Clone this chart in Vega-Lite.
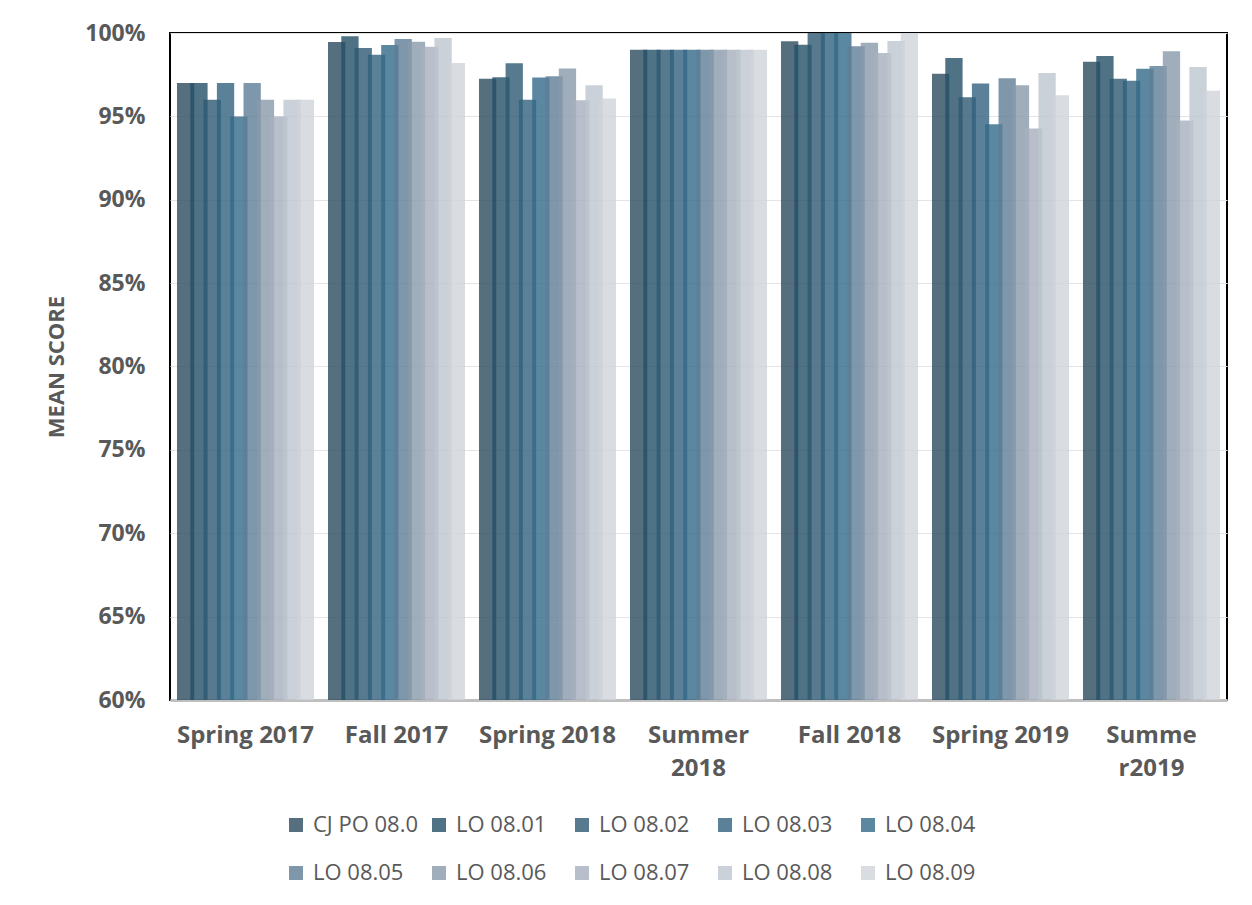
{
  "$schema": "https://vega.github.io/schema/vega-lite/v6.json",
  "width": 1057,
  "height": 667,
  "autosize": {"type": "none"},
  "padding": {"left": 170, "top": 33, "right": 25, "bottom": 205},
  "background": "white",
  "config": {
    "view": {"stroke": "#000000", "strokeWidth": 2},
    "font": "Open Sans"
  },
  "data": {
    "values": [
      {"term": "Spring 2017", "series": "CJ PO 08.0", "score": 0.97},
      {"term": "Spring 2017", "series": "LO 08.01", "score": 0.97},
      {"term": "Spring 2017", "series": "LO 08.02", "score": 0.96},
      {"term": "Spring 2017", "series": "LO 08.03", "score": 0.97},
      {"term": "Spring 2017", "series": "LO 08.04", "score": 0.95},
      {"term": "Spring 2017", "series": "LO 08.05", "score": 0.97},
      {"term": "Spring 2017", "series": "LO 08.06", "score": 0.96},
      {"term": "Spring 2017", "series": "LO 08.07", "score": 0.95},
      {"term": "Spring 2017", "series": "LO 08.08", "score": 0.96},
      {"term": "Spring 2017", "series": "LO 08.09", "score": 0.96},
      {"term": "Fall 2017", "series": "CJ PO 08.0", "score": 0.9946},
      {"term": "Fall 2017", "series": "LO 08.01", "score": 0.998},
      {"term": "Fall 2017", "series": "LO 08.02", "score": 0.991},
      {"term": "Fall 2017", "series": "LO 08.03", "score": 0.987},
      {"term": "Fall 2017", "series": "LO 08.04", "score": 0.9928},
      {"term": "Fall 2017", "series": "LO 08.05", "score": 0.9964},
      {"term": "Fall 2017", "series": "LO 08.06", "score": 0.9948},
      {"term": "Fall 2017", "series": "LO 08.07", "score": 0.9918},
      {"term": "Fall 2017", "series": "LO 08.08", "score": 0.997},
      {"term": "Fall 2017", "series": "LO 08.09", "score": 0.982},
      {"term": "Spring 2018", "series": "CJ PO 08.0", "score": 0.9725},
      {"term": "Spring 2018", "series": "LO 08.01", "score": 0.9735},
      {"term": "Spring 2018", "series": "LO 08.02", "score": 0.9818},
      {"term": "Spring 2018", "series": "LO 08.03", "score": 0.96},
      {"term": "Spring 2018", "series": "LO 08.04", "score": 0.9733},
      {"term": "Spring 2018", "series": "LO 08.05", "score": 0.9741},
      {"term": "Spring 2018", "series": "LO 08.06", "score": 0.9787},
      {"term": "Spring 2018", "series": "LO 08.07", "score": 0.9597},
      {"term": "Spring 2018", "series": "LO 08.08", "score": 0.9687},
      {"term": "Spring 2018", "series": "LO 08.09", "score": 0.9607},
      {"term": "Summer 2018", "series": "CJ PO 08.0", "score": 0.99},
      {"term": "Summer 2018", "series": "LO 08.01", "score": 0.99},
      {"term": "Summer 2018", "series": "LO 08.02", "score": 0.99},
      {"term": "Summer 2018", "series": "LO 08.03", "score": 0.99},
      {"term": "Summer 2018", "series": "LO 08.04", "score": 0.99},
      {"term": "Summer 2018", "series": "LO 08.05", "score": 0.99},
      {"term": "Summer 2018", "series": "LO 08.06", "score": 0.99},
      {"term": "Summer 2018", "series": "LO 08.07", "score": 0.99},
      {"term": "Summer 2018", "series": "LO 08.08", "score": 0.99},
      {"term": "Summer 2018", "series": "LO 08.09", "score": 0.99},
      {"term": "Fall 2018", "series": "CJ PO 08.0", "score": 0.995},
      {"term": "Fall 2018", "series": "LO 08.01", "score": 0.993},
      {"term": "Fall 2018", "series": "LO 08.02", "score": 1.0},
      {"term": "Fall 2018", "series": "LO 08.03", "score": 1.0},
      {"term": "Fall 2018", "series": "LO 08.04", "score": 1.0},
      {"term": "Fall 2018", "series": "LO 08.05", "score": 0.992},
      {"term": "Fall 2018", "series": "LO 08.06", "score": 0.9942},
      {"term": "Fall 2018", "series": "LO 08.07", "score": 0.988},
      {"term": "Fall 2018", "series": "LO 08.08", "score": 0.9952},
      {"term": "Fall 2018", "series": "LO 08.09", "score": 1.0},
      {"term": "Spring 2019", "series": "CJ PO 08.0", "score": 0.9755},
      {"term": "Spring 2019", "series": "LO 08.01", "score": 0.985},
      {"term": "Spring 2019", "series": "LO 08.02", "score": 0.9615},
      {"term": "Spring 2019", "series": "LO 08.03", "score": 0.9697},
      {"term": "Spring 2019", "series": "LO 08.04", "score": 0.9453},
      {"term": "Spring 2019", "series": "LO 08.05", "score": 0.9729},
      {"term": "Spring 2019", "series": "LO 08.06", "score": 0.9687},
      {"term": "Spring 2019", "series": "LO 08.07", "score": 0.9427},
      {"term": "Spring 2019", "series": "LO 08.08", "score": 0.976},
      {"term": "Spring 2019", "series": "LO 08.09", "score": 0.9627},
      {"term": "Summer2019", "series": "CJ PO 08.0", "score": 0.9828},
      {"term": "Summer2019", "series": "LO 08.01", "score": 0.9862},
      {"term": "Summer2019", "series": "LO 08.02", "score": 0.9725},
      {"term": "Summer2019", "series": "LO 08.03", "score": 0.9713},
      {"term": "Summer2019", "series": "LO 08.04", "score": 0.9786},
      {"term": "Summer2019", "series": "LO 08.05", "score": 0.9802},
      {"term": "Summer2019", "series": "LO 08.06", "score": 0.989},
      {"term": "Summer2019", "series": "LO 08.07", "score": 0.9475},
      {"term": "Summer2019", "series": "LO 08.08", "score": 0.9796},
      {"term": "Summer2019", "series": "LO 08.09", "score": 0.9653}
    ]
  },
  "mark": {"type": "bar", "opacity": 0.8, "size": 17.3, "clip": true},
  "encoding": {
    "x": {
      "field": "term",
      "type": "nominal",
      "sort": null,
      "scale": {"paddingInner": 0.119, "paddingOuter": 0.0595},
      "axis": {
        "title": null,
        "labelAngle": 0,
        "labelFont": "Open Sans",
        "labelFontWeight": "bold",
        "labelFontSize": 24,
        "labelColor": "#595959",
        "labelPadding": 23,
        "labelLineHeight": 33,
        "labelExpr": "datum.label == 'Summer 2018' ? ['Summer', '2018'] : datum.label == 'Summer2019' ? ['Summe', 'r2019'] : datum.label",
        "ticks": false,
        "tickSize": 0,
        "domainColor": "#bfbfbf",
        "domainWidth": 3,
        "grid": false
      }
    },
    "xOffset": {"field": "series", "type": "nominal", "sort": null, "scale": {"paddingInner": 0, "paddingOuter": 0}},
    "y": {
      "field": "score",
      "type": "quantitative",
      "scale": {"domain": [0.6, 1.0], "zero": false, "nice": false},
      "axis": {
        "title": "MEAN SCORE",
        "titleFont": "Open Sans",
        "titleFontWeight": "bold",
        "titleFontSize": 22,
        "titleColor": "#595959",
        "titlePadding": 16,
        "format": ".0%",
        "values": [0.6, 0.65, 0.7, 0.75, 0.8, 0.85, 0.9, 0.95, 1.0],
        "labelFont": "Open Sans",
        "labelFontWeight": "bold",
        "labelFontSize": 23,
        "labelColor": "#595959",
        "labelPadding": 25,
        "ticks": false,
        "tickSize": 0,
        "domain": false,
        "grid": true,
        "gridColor": "#e4e4e4",
        "gridWidth": 1
      }
    },
    "color": {
      "field": "series",
      "type": "nominal",
      "sort": null,
      "scale": {
        "domain": ["CJ PO 08.0", "LO 08.01", "LO 08.02", "LO 08.03", "LO 08.04", "LO 08.05", "LO 08.06", "LO 08.07", "LO 08.08", "LO 08.09"],
        "range": ["#2C4B5F", "#234F67", "#2D5972", "#31627E", "#326988", "#5F7D96", "#889AAB", "#A6AFBD", "#BDC6CE", "#D0D3DA"]
      },
      "legend": {
        "title": null,
        "orient": "none",
        "legendX": 115,
        "legendY": 781,
        "direction": "horizontal",
        "columns": 5,
        "gridAlign": "all",
        "columnPadding": 9,
        "rowPadding": 26,
        "padding": 0,
        "symbolType": "square",
        "symbolSize": 196,
        "symbolStrokeWidth": 0,
        "labelFont": "Open Sans",
        "labelFontSize": 22,
        "labelColor": "#595959",
        "labelOffset": 6,
        "labelLimit": 300
      }
    }
  }
}
